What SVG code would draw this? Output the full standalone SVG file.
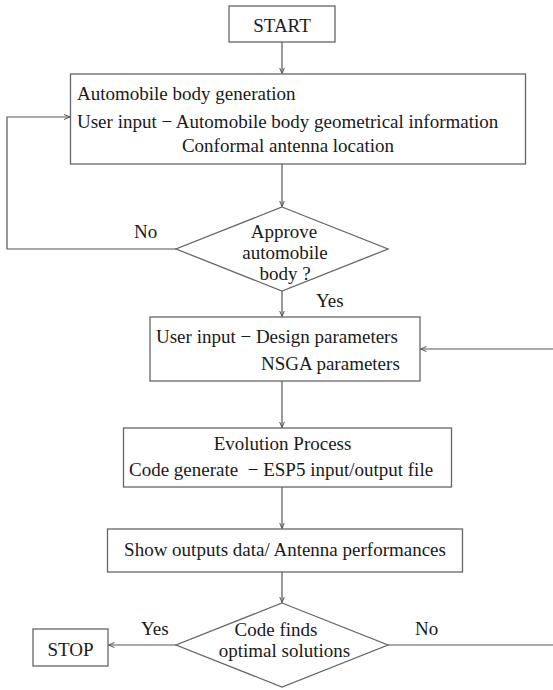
<svg xmlns="http://www.w3.org/2000/svg" width="553" height="690" viewBox="0 0 553 690">
<style>
.box{fill:#fff;stroke:#666;stroke-width:1.3}
.ln{fill:none;stroke:#555;stroke-width:1.2}
text{font-family:"Liberation Serif","Times New Roman",serif;font-size:19px;fill:#1a1a1a;white-space:pre}
.c{text-anchor:middle}
</style>
<defs>
<marker id="ah" markerUnits="userSpaceOnUse" markerWidth="8" markerHeight="8" refX="6" refY="3" orient="auto">
<path d="M0,0.5 L6,3 L0,5.5" fill="none" stroke="#555" stroke-width="1"/>
</marker>
</defs>
<rect width="553" height="690" fill="#fff"/>
<g id="connectors">
<path class="ln" d="M282,42 V73.5" marker-end="url(#ah)"/>
<path class="ln" d="M282,164 V206.5" marker-end="url(#ah)"/>
<path class="ln" d="M282,291 V316.5" marker-end="url(#ah)"/>
<path class="ln" d="M282,381 V427.5" marker-end="url(#ah)"/>
<path class="ln" d="M282,487 V528.5" marker-end="url(#ah)"/>
<path class="ln" d="M282,572 V602.5" marker-end="url(#ah)"/>
<path class="ln" d="M176,249 H7 V117 H70" marker-end="url(#ah)"/>
<path class="ln" d="M176,645 H108.5" marker-end="url(#ah)"/>
<path class="ln" d="M388,645 H560 V349 H420.5" marker-end="url(#ah)"/>
<text x="134" y="238">No</text>
<text x="316" y="307">Yes</text>
<text x="141" y="635">Yes</text>
<text x="415" y="635">No</text>
</g>
<g id="start">
<rect class="box" x="229" y="6" width="106" height="36"/>
<text class="c" x="282" y="32">START</text>
</g>
<g id="body-generation">
<rect class="box" x="70.5" y="74" width="455" height="90"/>
<text x="77" y="100">Automobile body generation</text>
<text x="77" y="128">User input − Automobile body geometrical information</text>
<text class="c" x="288" y="152">Conformal antenna location</text>
</g>
<g id="approve">
<polygon class="box" points="282,207 388,249 282,291 176,249"/>
<text class="c" x="284" y="238">Approve</text>
<text class="c" x="285" y="259">automobile</text>
<text class="c" x="285" y="280">body ?</text>
</g>
<g id="design-params">
<rect class="box" x="150" y="317" width="270" height="64"/>
<text x="156" y="343">User input − Design parameters</text>
<text x="261" y="370">NSGA parameters</text>
</g>
<g id="evolution">
<rect class="box" x="123.5" y="428" width="328" height="59"/>
<text class="c" x="282.5" y="450">Evolution Process</text>
<text x="129" y="476">Code generate  − ESP5 input/output file</text>
</g>
<g id="outputs">
<rect class="box" x="107.5" y="529" width="355" height="43"/>
<text class="c" x="285" y="556">Show outputs data/ Antenna performances</text>
</g>
<g id="optimal">
<polygon class="box" points="282,603 388,645 282,687 176,645"/>
<text class="c" x="276" y="636">Code finds</text>
<text class="c" x="284.5" y="657">optimal solutions</text>
</g>
<g id="stop">
<rect class="box" x="33" y="629" width="75" height="37"/>
<text class="c" x="70.5" y="656">STOP</text>
</g>
</svg>
